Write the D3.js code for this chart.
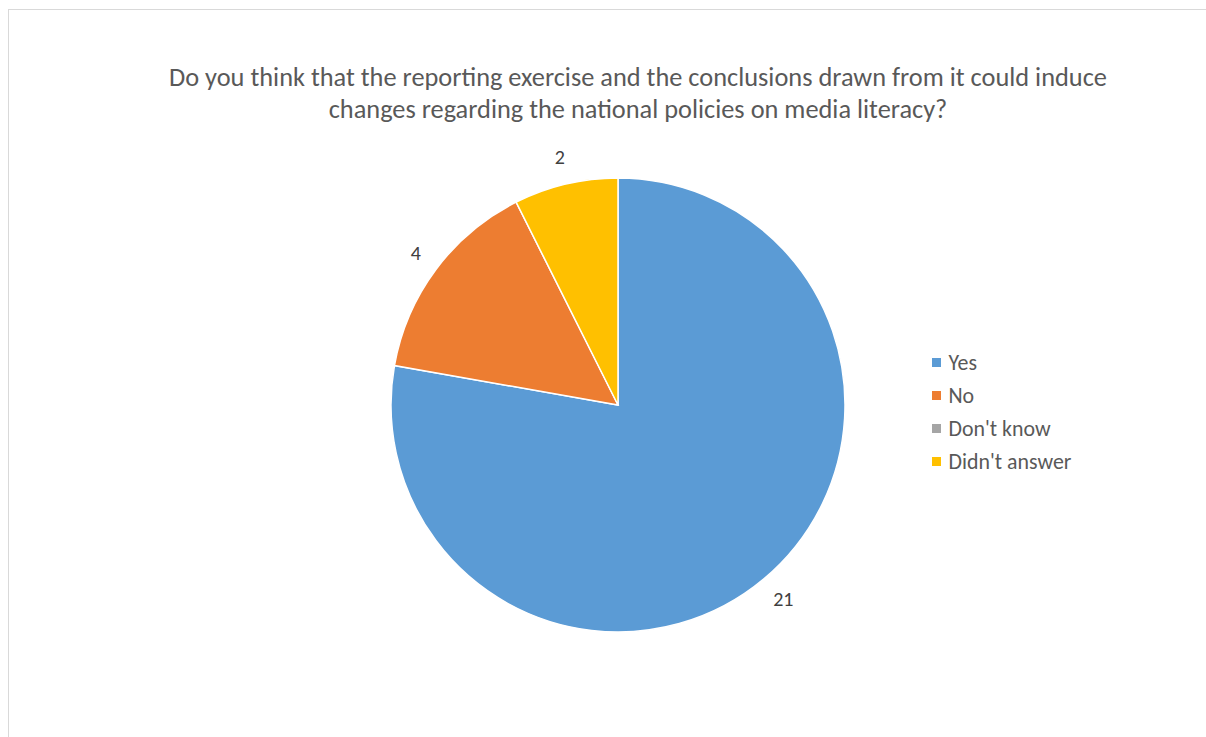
<!DOCTYPE html>
<html><head><meta charset="utf-8">
<script src="https://cdn.jsdelivr.net/npm/d3@7"></script>
<style>html,body{margin:0;padding:0;background:#fff;}svg{display:block;}</style>
</head><body>
<svg id="chart" width="1206" height="737"></svg>
<script>
const categories = ["Yes", "No", "Don't know", "Didn't answer"];
const values = [21, 4, 0, 2];
const colors = ["#5B9BD5", "#ED7D31", "#A5A5A5", "#FFC000"];
const titleLines = ["Do you think that the reporting exercise and the conclusions drawn from it could induce",
                    "changes regarding the national policies on media literacy?"];

const svg = d3.select("#chart");
const font = "Carlito, Calibri, 'Open Sans', sans-serif";

function fitSize(sel, base, targetW) {
  const w = sel.node().getComputedTextLength();
  return base * targetW / w;
}

// chart border
svg.append("rect").attr("x", 8.5).attr("y", 9.5).attr("width", 1300).attr("height", 800)
  .attr("fill", "#fff").attr("stroke", "#d9d9d9").attr("stroke-width", 1);

// title
const title = svg.append("g");
const t0 = title.append("text").attr("x", 638).attr("y", 86)
  .attr("text-anchor", "middle").attr("fill", "#595959")
  .attr("font-family", font).attr("font-size", 22).text(titleLines[0]);
const tfs = fitSize(t0, 22, 938);
t0.attr("font-size", tfs);
title.append("text").attr("x", 638).attr("y", 118)
  .attr("text-anchor", "middle").attr("fill", "#595959")
  .attr("font-family", font).attr("font-size", tfs).text(titleLines[1]);

const cx = 618, cy = 405, r = 227;
const data = categories.map((c, i) => ({ cat: c, value: values[i], color: colors[i] }));
const pie = d3.pie().sort(null).value(d => d.value);
const arcs = pie(data);
const arc = d3.arc().innerRadius(0).outerRadius(r);

const g = svg.append("g").attr("transform", `translate(${cx},${cy})`);
g.selectAll("path").data(arcs.filter(a => a.data.value > 0)).join("path")
  .attr("d", arc).attr("fill", d => d.data.color)
  .attr("stroke", "#fff").attr("stroke-width", 1.5);

// outside-end labels: box offset outward from radius
const labelR = 247;
g.selectAll("text").data(arcs.filter(a => a.data.value > 0)).join("text")
  .attr("text-anchor", "middle").attr("dy", "0.33em")
  .attr("fill", "#404040").attr("font-family", font).attr("font-size", 20)
  .text(d => d.data.value)
  .each(function(d) {
    const a = (d.startAngle + d.endAngle) / 2;
    const ux = Math.sin(a), uy = -Math.cos(a);
    const w = this.getComputedTextLength(), h = 14;
    const x = labelR * ux + w / 2 * ux, y = labelR * uy + h / 2 * uy;
    d3.select(this).attr("transform", `translate(${x},${y})`);
  });

// legend
const probe2 = svg.append("text").attr("font-family", font).attr("font-size", 18).text("Didn't answer");
const gfs = fitSize(probe2, 18, 123);
probe2.remove();

const legend = svg.append("g").attr("transform", "translate(932,362.5)");
const rows = legend.selectAll("g").data(data).join("g")
  .attr("transform", (d, i) => `translate(0,${i * 33})`);
rows.append("rect").attr("x", 0).attr("y", -4.5).attr("width", 9).attr("height", 9)
  .attr("fill", d => d.color);
rows.append("text").attr("x", 16.5).attr("y", 0).attr("dy", "0.35em")
  .attr("fill", "#595959").attr("font-family", font).attr("font-size", gfs)
  .text(d => d.cat);
</script>
</body></html>
